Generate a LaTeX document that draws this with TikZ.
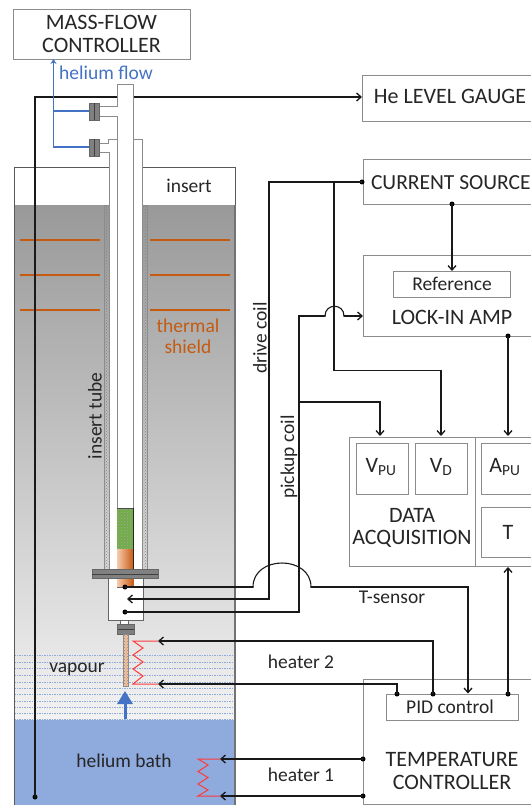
\documentclass[tikz,border=0pt]{standalone}
\usepackage{fontspec}
\setmainfont{Carlito}
\usetikzlibrary{arrows.meta,patterns}
\definecolor{boxgray}{HTML}{8C8C8C}
\definecolor{hblue}{HTML}{4472C4}
\definecolor{bath}{HTML}{8FAADC}
\definecolor{shield}{HTML}{C55A11}
\definecolor{peach}{HTML}{F8CBAD}
\definecolor{grn}{HTML}{70AD47}
\definecolor{htr}{HTML}{FF3B3B}
\tikzset{
  x=1pt,y=-1pt,
  pxbox/.style={draw=boxgray,line width=0.9pt,fill=white,inner sep=0pt,outer sep=0pt,rectangle},
  lab/.style={inner sep=0pt,outer sep=0pt,text=black!85,font=\fontsize{19.5}{21}\selectfont,align=center},
  capslab/.style={lab,font=\fontsize{22}{22.5}\selectfont},
  wire/.style={draw=black!90,line width=1.5pt,line cap=round},
  warrow/.style={wire,-{Straight Barb[length=4.5pt,width=8pt,line width=1.3pt]}},
  dotn/.style={circle,fill=black,inner sep=0pt,minimum size=5pt,outer sep=0pt},
  tubeln/.style={draw=black!45,line width=0.9pt},
  conn/.style={draw=black!60,fill=black!50,line width=0.8pt},
  heat/.style={draw=htr,line width=1pt},
  hatchfill/.style={pattern=crosshatch dots,pattern color=black!50},
  vap/.style={draw=hblue!60,line width=0.6pt,dash pattern=on 1.5pt off 1pt},
  flowln/.style={draw=hblue,line width=1.8pt},
}
\begin{document}
\begin{tikzpicture}
\useasboundingbox (0,0) rectangle (530,805);
% cryostat
\fill[white] (14,167) rectangle (235,205);
\shade[top color=black!40,bottom color=black!5,shading angle=0] (14,205) rectangle (235,720);
\fill[bath] (14,720) rectangle (235,805);
\foreach \yy in {655,662,668,675,682,688,694,701,707,713,719}{\draw[vap] (14,\yy) -- (235,\yy);}
\draw[black!65,line width=0.9pt] (14,805) -- (14,167) -- (235,167) -- (235,805);
\draw[black!55,line width=1.3pt] (235,205) -- (235,805);
% shield
\foreach \yy in {240,275,310}{
  \draw[shield,line width=2.6pt] (20,\yy) -- (100,\yy);
  \draw[shield,line width=2.6pt] (150,\yy) -- (230,\yy);}
% boxes on the right
\node[pxbox,minimum width=177pt,minimum height=50pt] (mfc) at (101.5,34) {};
\node[pxbox,minimum width=180pt,minimum height=46pt] (level) at (452,98) {};
\node[pxbox,minimum width=180pt,minimum height=45pt] (source) at (453,181.5) {};
\node[pxbox,minimum width=180pt,minimum height=81pt] (lockin) at (453,295.5) {};
\node[pxbox,minimum width=117pt,minimum height=26pt] (ref) at (451.5,284) {};
\node[pxbox,minimum width=126pt,minimum height=129pt] (daq) at (412,501.5) {};
\node[pxbox,minimum width=70pt,minimum height=129pt] (daqb) at (510,501.5) {};
\node[pxbox,minimum width=52pt,minimum height=51pt] (vpu) at (382,468.5) {};
\node[pxbox,minimum width=52pt,minimum height=51pt] (vd) at (441.5,468.5) {};
\node[pxbox,minimum width=60pt,minimum height=51pt] (apu) at (511,468.5) {};
\node[pxbox,minimum width=60pt,minimum height=50pt] (tbox) at (511,532) {};
\node[pxbox,minimum width=180pt,minimum height=125pt] (tc) at (453,741.5) {};
\node[pxbox,minimum width=132pt,minimum height=26pt] (pid) at (452,707) {};
% anchor points
\node[dotn] (hedot) at (35,797) {};
\coordinate (hecorner) at (35,97);
% level wire (behind the tubes)
\draw[warrow] (hedot.center) -- (hecorner) -- (level.west |- hecorner);
% insert
\fill[white] (109,139) rectangle (142,569);
\fill[white] (117,84) rectangle (133.5,139);
\filldraw[draw=black!45,line width=0.6pt,hatchfill] (104.5,205) rectangle (109,569);
\filldraw[draw=black!45,line width=0.6pt,hatchfill] (142.5,205) rectangle (147,569);
\fill[white] (99,107) rectangle (117,116);
\fill[white] (99,143) rectangle (112,152);
\draw[tubeln] (99,106.5) -- (117,106.5) -- (117,84) -- (133.5,84) -- (133.5,569);
\draw[tubeln] (99,116.5) -- (117,116.5) -- (117,569);
\draw[tubeln] (99,143) -- (108,143) -- (108,139.5) -- (117,139.5);
\draw[tubeln] (99,152.5) -- (109,152.5) -- (109,569);
\draw[tubeln] (133.5,139.5) -- (142.5,139.5) -- (142.5,569);
% sample
\fill[grn] (117,508) rectangle (133.5,549);
\fill[pattern=crosshatch dots,pattern color=black!35] (117,508) rectangle (133.5,549);
\shade[left color=peach,right color=shield] (117,549) rectangle (133.5,587);
\draw[black!70,line width=0.7pt] (117,508) -- (133.5,508);
\draw[black!85,line width=1pt] (133.5,508) -- (133.5,569);
% lower housing
\draw[black!60,line width=0.9pt,fill=white] (108,578) rectangle (143,620);
\shade[left color=peach,right color=shield] (117,578) rectangle (133.5,587);
\draw[black!60,line width=0.6pt] (117,587) -- (133.5,587);
\draw[black!60,line width=0.9pt,fill=white] (120,620) rectangle (128,625);
\draw[conn] (92,569) rectangle (158,578.5);
\draw[black!75,line width=0.8pt] (92,574) -- (158,574);
\draw[conn] (117.5,624) rectangle (134,634);
\draw[black!75,line width=0.8pt] (117.5,629) -- (134,629);
\filldraw[draw=black!45,line width=0.5pt,fill=peach!90!shield] (123.5,634) rectangle (128.5,686);
\fill[pattern=crosshatch dots,pattern color=black!45] (123.5,634) rectangle (128.5,686);
% connector blocks
\draw[conn] (89,103) rectangle (99,120);
\draw[conn] (89,139) rectangle (99,156);
\draw[black!75,line width=0.8pt] (94,103) -- (94,120);
\draw[black!75,line width=0.8pt] (94,139) -- (94,156);
% helium flow
\coordinate (flowa) at (89,111);
\coordinate (flowb) at (89,147);
\coordinate (flowc) at (53.5,147);
\coordinate (flowd) at (53.5,111);
\draw[flowln,-{Stealth[length=5pt,width=6pt]}] (flowb) -- (flowc) -- (mfc.south -| flowc);
\draw[flowln] (flowa) -- (flowd);
% big arrow
\coordinate (bigs) at (125,719);
\coordinate (bige) at (125,691);
\draw[hblue,line width=3pt,-{Triangle[length=13pt,width=15pt]}] (bigs) -- (bige);
% heaters
\coordinate (ha) at (158,641);
\coordinate (hb) at (158,684);
\draw[heat] (ha) -- (133,641) -- (143,648) -- (133,655) -- (143,662) -- (133,669) -- (143,676) -- (133,684) -- (hb);
\coordinate (hc) at (220,759);
\coordinate (hd) at (220,796);
\draw[heat] (hc) -- (198,759) -- (208,765) -- (198,771.5) -- (208,777.5) -- (198,784) -- (208,790) -- (198,796) -- (hd);
% wires: T-sensor
\node[dotn] (tsdot) at (125,587) {};
\coordinate (tsa) at (253,587);
\coordinate (tsb) at (311,587);
\coordinate (tsc) at (468,587);
\coordinate (tsd) at (468,693.5);
\draw[wire] (tsdot.center) -- (tsa);
\draw[wire,line width=1.1pt] (tsa) .. controls (253,555) and (311,555) .. (tsb);
\draw[warrow] (tsb) -- (tsc) -- (tsd);
% drive coil
\node[dotn] (srcdot) at (362,182) {};
\coordinate (dca) at (269,182);
\coordinate (dcb) at (269,599);
\coordinate (dcc) at (127,599);
\draw[warrow] (srcdot.center) -- (dca) -- (dcb) -- (dcc);
% pickup coil
\node[dotn] (pudot) at (125,612) {};
\coordinate (pua) at (299,612);
\coordinate (pub) at (299,316);
\coordinate (puc) at (325,316);
\coordinate (pud) at (344,316);
\coordinate (pue) at (299,402);
\coordinate (puf) at (380,402);
\coordinate (pug) at (380,436);
\draw[wire] (pudot.center) -- (pua) -- (pub) -- (puc);
\draw[wire,line width=1.1pt] (puc) .. controls (325,303) and (344,303) .. (pud);
\draw[warrow] (pud) -- (lockin.west |- pud);
\draw[warrow] (pue) -- (puf) -- (pug);
% current source branches
\coordinate (sba) at (334,182);
\coordinate (sbb) at (334,370.5);
\coordinate (sbc) at (441,370.5);
\coordinate (sbd) at (441,436);
\draw[warrow] (sba) -- (sbb) -- (sbc) -- (sbd);
\node[dotn] (srcb) at (452,204) {};
\draw[warrow] (srcb.center) -- (ref.north -| srcb);
% lock-in to acquisition
\node[dotn] (lidot) at (508,336) {};
\coordinate (lie) at (508,436);
\draw[warrow] (lidot.center) -- (lie);
% PID
\node[dotn] (piddot) at (508,694) {};
\coordinate (pidt) at (508,567);
\draw[warrow] (piddot.center) -- (pidt);
\node[dotn] (h2a) at (433,694) {};
\coordinate (h2b) at (433,641);
\draw[warrow] (h2a.center) -- (h2b) -- (ha);
\node[dotn] (h2c) at (397,694) {};
\coordinate (h2d) at (397,684);
\draw[warrow] (h2c.center) -- (h2d) -- (hb);
\node[dotn] (h1a) at (363,759) {};
\node[dotn] (h1b) at (363,796) {};
\draw[warrow] (h1a.center) -- (hc);
\draw[warrow] (h1b.center) -- (hd);
% texts
\node[capslab] (tmfc) at (101.5,34) {MASS-FLOW\\CONTROLLER};
\node[lab,text=hblue] (tflow) at (106,72.5) {helium flow};
\node[capslab] (tlevel) at (450,96) {He LEVEL GAUGE};
\node[lab,font=\fontsize{21.5}{22}\selectfont,anchor=west] (tsource) at (371,183) {CURRENT SOURCE};
\node[lab] (tref) at (452,284) {Reference};
\node[capslab] (tlock) at (452,317) {LOCK-IN AMP};
\node[capslab] (tdaq) at (412,528) {DATA\\ACQUISITION};
\node[capslab] (tvpu) at (381,467) {V\textsubscript{PU}};
\node[capslab] (tvd) at (441,467) {V\textsubscript{D}};
\node[capslab] (tapu) at (505,467) {A\textsubscript{PU}};
\node[capslab] (tt) at (508,532) {T};
\node[lab] (tpid) at (450,707) {PID control};
\node[capslab] (ttc) at (452,771) {TEMPERATURE\\CONTROLLER};
\node[lab] (tinsert) at (189,186) {insert};
\node[lab,text=shield] (tshield) at (188,336) {thermal\\shield};
\node[lab,rotate=90] (tdrive) at (260,338) {drive coil};
\node[lab,rotate=90] (tpick) at (289,457) {pickup coil};
\node[lab,rotate=90] (ttube) at (95,416) {insert tube};
\node[lab] (tts) at (392,597) {T-sensor};
\node[lab] (th2) at (301,662) {heater 2};
\node[lab] (th1) at (301,775) {heater 1};
\node[lab] (tvap) at (77,669) {vapour};
\node[lab] (tbath) at (124,761) {helium bath};
\end{tikzpicture}
\end{document}
